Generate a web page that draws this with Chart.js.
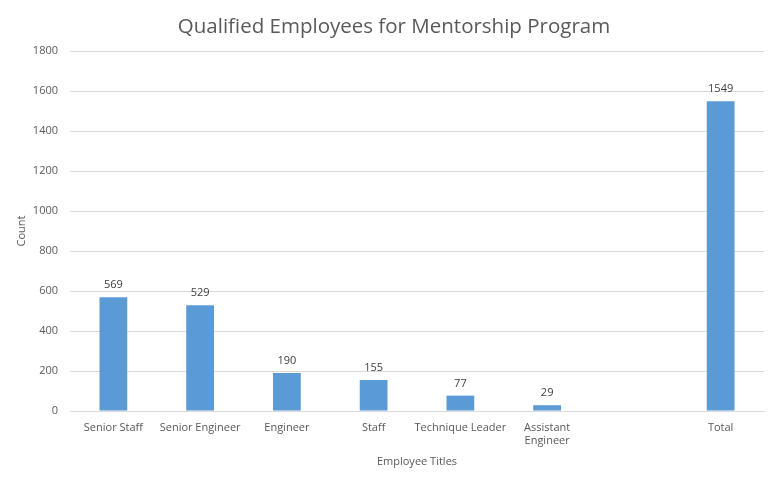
<!DOCTYPE html>
<html lang="en">
<head>
    <meta charset="UTF-8">
    <title>Qualified Employees for Mentorship Program</title>
    <script src="https://cdn.jsdelivr.net/npm/chart.js"></script>
    <style>
        html, body { margin: 0; padding: 0; background: #fff; }
        #chart { display: block; }
    </style>
</head>
<body>
    <canvas id="chart" width="778" height="480"></canvas>

    <script>
        // Data
        const titles = ['Senior Staff', 'Senior Engineer', 'Engineer', 'Staff', 'Technique Leader', ['Assistant', 'Engineer'], '', 'Total'];
        const counts = [569, 529, 190, 155, 77, 29, null, 1549];
        const yTicks = [0, 200, 400, 600, 800, 1000, 1200, 1400, 1600, 1800];

        const FONT = "'Open Sans', 'Noto Sans', sans-serif";
        const TEXT = '#595959';

        // Draws the value above each bar
        const valueLabels = {
            id: 'valueLabels',
            afterDatasetsDraw(chart) {
                const ctx = chart.ctx;
                const meta = chart.getDatasetMeta(0);
                ctx.save();
                ctx.font = '11px ' + FONT;
                ctx.fillStyle = '#404040';
                ctx.textAlign = 'center';
                ctx.textBaseline = 'middle';
                meta.data.forEach((bar, i) => {
                    if (counts[i] == null) return;
                    ctx.fillText(counts[i], bar.x, bar.y - 12);
                });
                ctx.restore();
            }
        };

        new Chart(document.getElementById('chart'), {
            type: 'bar',
            data: {
                labels: titles,
                datasets: [{
                    data: counts,
                    backgroundColor: '#5b9bd5',
                    borderWidth: 0,
                    categoryPercentage: 1,
                    barPercentage: 0.32
                }]
            },
            options: {
                responsive: false,
                animation: false,
                // left padding keeps the title centred like the original
                layout: { padding: { left: 24, right: 14, top: 0, bottom: 0 } },
                plugins: {
                    legend: { display: false },
                    tooltip: { enabled: false },
                    title: {
                        display: true,
                        text: 'Qualified Employees for Mentorship Program',
                        color: TEXT,
                        font: { family: FONT, size: 20.5, weight: 'normal' },
                        padding: { top: 15, bottom: 11.5 }
                    }
                },
                scales: {
                    x: {
                        grid: { display: false, drawTicks: false },
                        border: { display: true, color: '#d9d9d9', width: 1 },
                        ticks: {
                            color: TEXT,
                            font: { family: FONT, size: 11 },
                            padding: 10,
                            maxRotation: 0,
                            autoSkip: false
                        },
                        title: {
                            display: true,
                            text: 'Employee Titles',
                            color: TEXT,
                            font: { family: FONT, size: 11 },
                            padding: { top: 6, bottom: 12 }
                        },
                        afterFit(scale) { scale.height = 69; }
                    },
                    y: {
                        min: 0,
                        max: 1800,
                        afterBuildTicks(scale) { scale.ticks = yTicks.map(v => ({ value: v })); },
                        grid: { color: '#d9d9d9', drawTicks: false },
                        border: { display: false },
                        ticks: {
                            color: TEXT,
                            font: { family: FONT, size: 11 },
                            padding: 12,
                            callback: v => String(v)
                        },
                        title: {
                            display: true,
                            text: 'Count',
                            color: TEXT,
                            font: { family: FONT, size: 11 },
                            padding: { top: -9, bottom: 0 }
                        },
                        afterFit(scale) { scale.width = 46; }
                    }
                }
            },
            plugins: [valueLabels]
        });
    </script>
</body>
</html>
